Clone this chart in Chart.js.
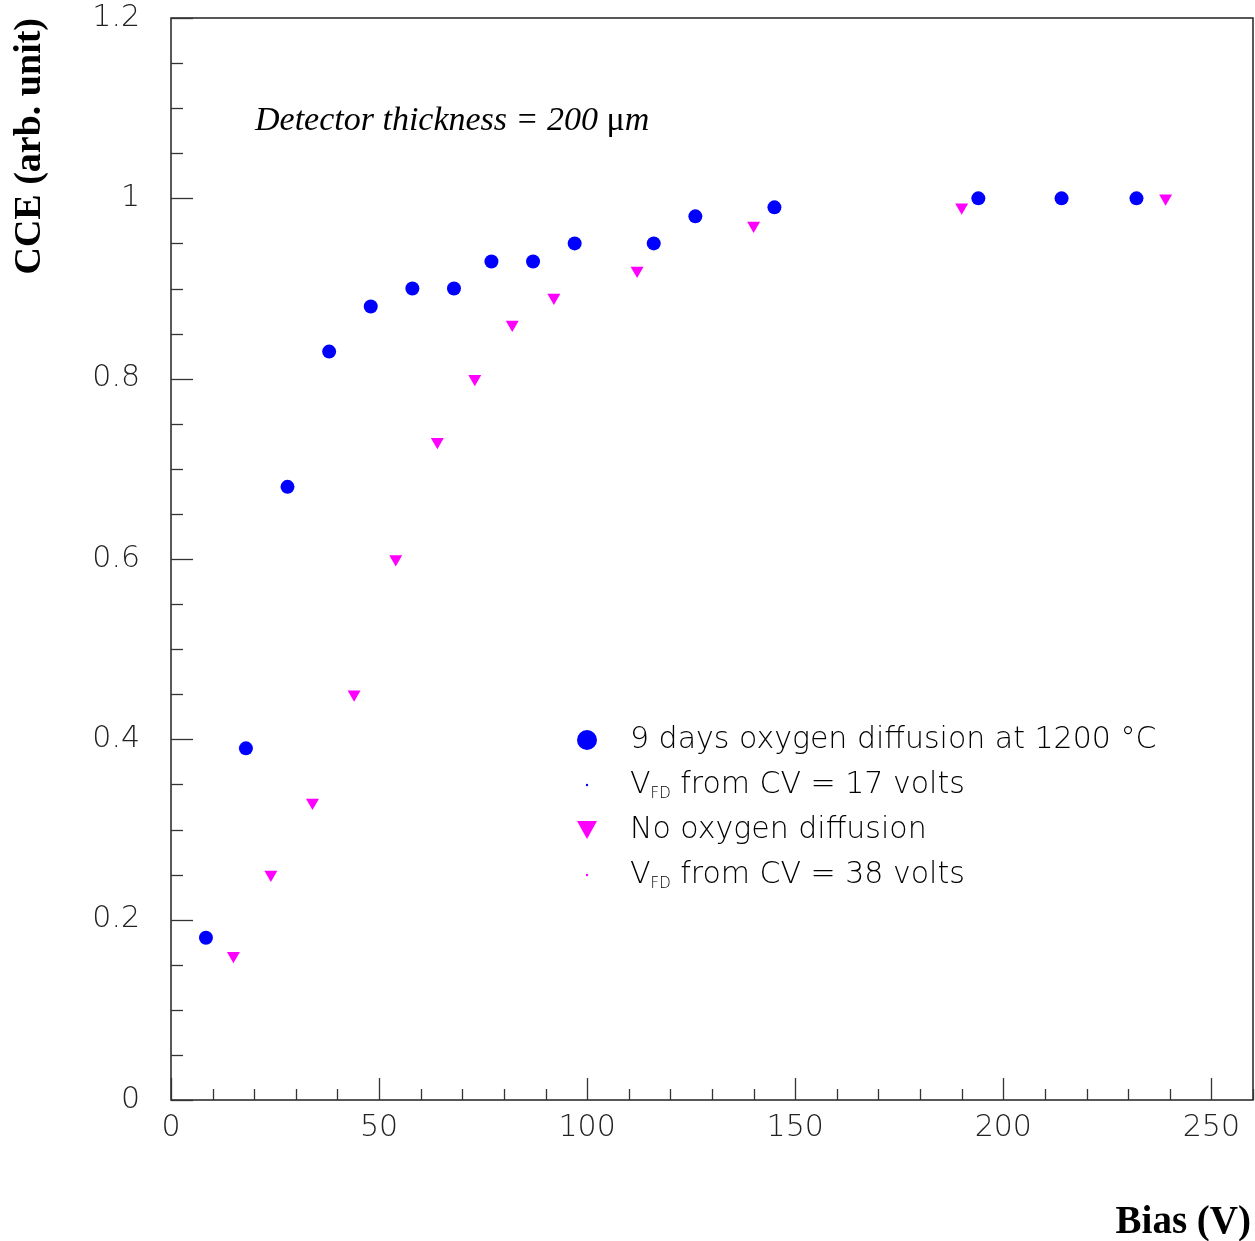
<!DOCTYPE html>
<html><head><meta charset="utf-8">
<script src="https://cdn.jsdelivr.net/npm/chart.js@4.4.1/dist/chart.umd.min.js"></script>
<style>html,body{margin:0;padding:0;background:#fff}#wrap{width:1255px;height:1241px;position:relative}canvas{display:block}</style>
</head><body><div id="wrap"><canvas id="c" width="1255" height="1241"></canvas></div>
<script>
// ---- data ----
const oxyBias   = [8.4, 18, 28, 38, 48, 58, 68, 77, 87, 97, 116, 126, 145, 194, 214, 232];
const oxyCCE    = [0.18, 0.39, 0.68, 0.83, 0.88, 0.90, 0.90, 0.93, 0.93, 0.95, 0.95, 0.98, 0.99, 1.0, 1.0, 1.0];
const noOxyBias = [15, 24, 34, 44, 54, 64, 73, 82, 92, 112, 140, 190, 239];
const noOxyCCE  = [0.16, 0.25, 0.33, 0.45, 0.60, 0.73, 0.80, 0.86, 0.89, 0.92, 0.97, 0.99, 1.0];
const xTickValues = [0, 50, 100, 150, 200, 250];
const yTickValues = [0, 0.2, 0.4, 0.6, 0.8, 1, 1.2];
const legendLabels = ["9 days oxygen diffusion at 1200 \u00B0C", "from CV = 17 volts", "No oxygen diffusion", "from CV = 38 volts"];
const annotationText = "Detector thickness = 200 ";
const xTitle = "Bias (V)";
const yTitle = "CCE (arb. unit)";

const BLUE = "#0000ff", MAG = "#ff00ff";
const TICKFONT = "200 30px 'DejaVu Sans'";

function pts(xs, ys){ return xs.map((x,i)=>({x:x, y:ys[i]})); }

const decor = {
  id: 'decor',
  afterDraw(chart){
    const ctx = chart.ctx, a = chart.chartArea;
    const xs = chart.scales.x, ys = chart.scales.y;
    ctx.save();
    ctx.strokeStyle = '#222'; ctx.lineWidth = 1.5;
    ctx.strokeRect(a.left, a.top, a.right - a.left, a.bottom - a.top);
    ctx.lineWidth = 1.3; ctx.strokeStyle = '#333';
    for (let v = 0; v <= 260; v += 10) {
      const px = Math.round(xs.getPixelForValue(v)) + 0.5;
      const len = (v % 50 === 0) ? 22 : 11;
      ctx.beginPath(); ctx.moveTo(px, a.bottom); ctx.lineTo(px, a.bottom - len); ctx.stroke();
    }
    for (let i = 0; i <= 24; i++) {
      const v = i * 0.05;
      const py = Math.round(ys.getPixelForValue(v)) + 0.5;
      const len = (i % 4 === 0) ? 22 : 12;
      ctx.beginPath(); ctx.moveTo(a.left, py); ctx.lineTo(a.left + len, py); ctx.stroke();
    }
    ctx.fillStyle = '#000'; ctx.textBaseline = 'alphabetic'; ctx.textAlign = 'left';
    ctx.font = "italic 34px 'Liberation Serif'";
    let tx = 255, ty = 130;
    ctx.fillText(annotationText, tx, ty);
    tx += ctx.measureText(annotationText).width;
    ctx.font = "34px 'Liberation Serif'";
    ctx.fillText("\u03BC", tx, ty);
    tx += ctx.measureText("\u03BC").width;
    ctx.font = "italic 34px 'Liberation Serif'";
    ctx.fillText("m", tx, ty);
    ctx.font = "bold 39px 'Liberation Serif'";
    ctx.textAlign = 'right';
    ctx.fillText(xTitle, 1251, 1233);
    ctx.save();
    ctx.translate(40, 18); ctx.rotate(-Math.PI/2);
    ctx.font = "bold 38px 'Liberation Serif'";
    ctx.textAlign = 'right';
    ctx.fillText(yTitle, 0, 0);
    ctx.restore();
    const lx = 587, tx0 = 630;
    const rows = [740, 785, 830, 875];
    ctx.fillStyle = BLUE;
    ctx.beginPath(); ctx.arc(lx, rows[0], 10, 0, Math.PI*2); ctx.fill();
    ctx.beginPath(); ctx.arc(lx, rows[1], 1.2, 0, Math.PI*2); ctx.fill();
    ctx.fillStyle = MAG;
    ctx.beginPath(); ctx.moveTo(lx - 10, rows[2] - 9); ctx.lineTo(lx + 10, rows[2] - 9); ctx.lineTo(lx, rows[2] + 9); ctx.closePath(); ctx.fill();
    ctx.beginPath(); ctx.arc(lx, rows[3], 1.2, 0, Math.PI*2); ctx.fill();
    ctx.fillStyle = '#000'; ctx.textAlign = 'left'; ctx.textBaseline = 'middle';
    ctx.font = TICKFONT;
    ctx.fillText(legendLabels[0], tx0, rows[0]);
    ctx.fillText(legendLabels[2], tx0, rows[2]);
    [1,3].forEach(i => {
      ctx.font = TICKFONT;
      ctx.fillText("V", tx0, rows[i]);
      const w = ctx.measureText("V").width;
      ctx.font = "200 15px 'DejaVu Sans'";
      ctx.fillText("FD", tx0 + w, rows[i] + 9);
      const w2 = ctx.measureText("FD").width;
      ctx.font = TICKFONT;
      ctx.fillText(" " + legendLabels[i], tx0 + w + w2, rows[i]);
    });
    ctx.restore();
  }
};

function zeroPad(s){ s.paddingTop = 0; s.paddingBottom = 0; s.paddingLeft = 0; s.paddingRight = 0; }

new Chart(document.getElementById('c'), {
  type: 'scatter',
  data: {
    datasets: [
      { label: legendLabels[0], data: pts(oxyBias, oxyCCE), pointStyle: 'circle', pointRadius: 7, pointHoverRadius: 7,
        backgroundColor: BLUE, borderColor: BLUE, borderWidth: 0 },
      { label: legendLabels[2], data: pts(noOxyBias, noOxyCCE), pointStyle: 'triangle', rotation: 180, pointRadius: 7.5, pointHoverRadius: 7.5,
        backgroundColor: MAG, borderColor: MAG, borderWidth: 0 }
    ]
  },
  options: {
    responsive: false, animation: false, devicePixelRatio: 1,
    layout: { autoPadding: false, padding: { top: 18, right: 2, left: 0, bottom: 0 } },
    plugins: { legend: { display: false }, tooltip: { enabled: false } },
    scales: {
      x: {
        type: 'linear', min: 0, max: 260,
        afterBuildTicks: s => { s.ticks = xTickValues.map(v => ({ value: v })); },
        afterFit: s => { s.height = 141; zeroPad(s); },
        ticks: { font: { family: 'DejaVu Sans', size: 30, weight: 200 }, color: '#222', padding: 10, maxRotation: 0,
                 callback: v => String(v) },
        grid: { display: false, drawTicks: false }, border: { display: false }
      },
      y: {
        type: 'linear', min: 0, max: 1.2,
        afterBuildTicks: s => { s.ticks = yTickValues.map(v => ({ value: v })); },
        afterFit: s => { s.width = 171; zeroPad(s); },
        ticks: { font: { family: 'DejaVu Sans', size: 30, weight: 200 }, color: '#222', padding: 31,
                 callback: v => String(Math.round(v * 10) / 10) },
        grid: { display: false, drawTicks: false }, border: { display: false }
      }
    }
  },
  plugins: [decor]
});
</script>
</body></html>
